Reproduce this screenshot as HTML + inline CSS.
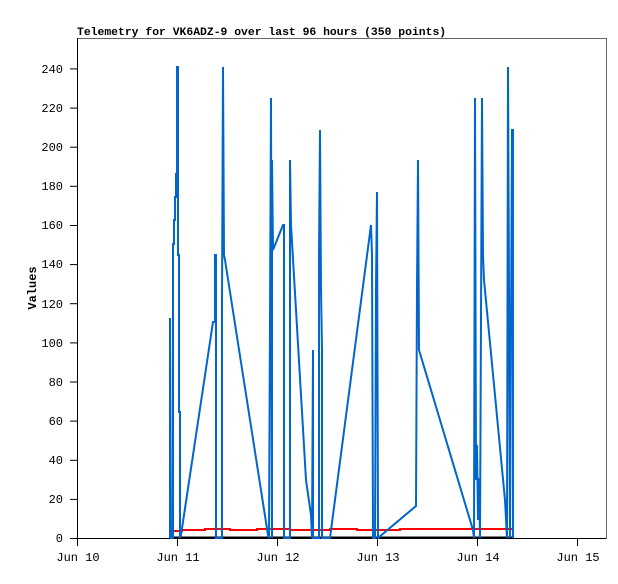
<!DOCTYPE html>
<html><head><meta charset="utf-8"><style>
body{margin:0;background:#fff;}
svg text{font-family:"Liberation Mono",monospace;font-size:12px;fill:#000;}
</style></head><body>
<svg width="618" height="579" viewBox="0 0 618 579" xmlns="http://www.w3.org/2000/svg">
<rect width="618" height="579" fill="#fff"/>
<text x="77" y="35" style="font-weight:bold;font-size:11.4px">Telemetry for VK6ADZ-9 over last 96 hours (350 points)</text>
<rect x="77.5" y="38.5" width="529" height="500" fill="none" stroke="#666" stroke-width="1"/>
<line x1="77.5" y1="38" x2="77.5" y2="539" stroke="#000"/>
<line x1="70" y1="538.5" x2="606" y2="538.5" stroke="#000"/>
<g stroke="#000">
<line x1="70" y1="538.5" x2="77" y2="538.5"/><line x1="70" y1="499.4" x2="77" y2="499.4"/><line x1="70" y1="460.3" x2="77" y2="460.3"/><line x1="70" y1="421.1" x2="77" y2="421.1"/><line x1="70" y1="382" x2="77" y2="382"/><line x1="70" y1="342.9" x2="77" y2="342.9"/><line x1="70" y1="303.7" x2="77" y2="303.7"/><line x1="70" y1="264.6" x2="77" y2="264.6"/><line x1="70" y1="225.5" x2="77" y2="225.5"/><line x1="70" y1="186.3" x2="77" y2="186.3"/><line x1="70" y1="147.2" x2="77" y2="147.2"/><line x1="70" y1="108.1" x2="77" y2="108.1"/><line x1="70" y1="68.9" x2="77" y2="68.9"/>
<line x1="77.5" y1="538" x2="77.5" y2="546"/><line x1="177.5" y1="538" x2="177.5" y2="546"/><line x1="277.5" y1="538" x2="277.5" y2="546"/><line x1="377.5" y1="538" x2="377.5" y2="546"/><line x1="477.5" y1="538" x2="477.5" y2="546"/><line x1="577.5" y1="538" x2="577.5" y2="546"/>
</g>
<g text-anchor="end">
<text x="63" y="542">0</text><text x="63" y="503">20</text><text x="63" y="464">40</text><text x="63" y="425">60</text><text x="63" y="386">80</text><text x="63" y="347">100</text><text x="63" y="308">120</text><text x="63" y="268">140</text><text x="63" y="229">160</text><text x="63" y="190">180</text><text x="63" y="151">200</text><text x="63" y="112">220</text><text x="63" y="73">240</text>
</g>
<g text-anchor="middle">
<text x="78" y="561">Jun 10</text><text x="178" y="561">Jun 11</text><text x="278" y="561">Jun 12</text><text x="378" y="561">Jun 13</text><text x="478" y="561">Jun 14</text><text x="578" y="561">Jun 15</text>
</g>
<text transform="translate(36,288) rotate(-90)" text-anchor="middle" style="font-weight:bold">Values</text>
<line x1="170" y1="537.5" x2="514" y2="537.5" stroke="#000" stroke-width="2"/>
<polyline fill="none" stroke="#f00" stroke-width="2" points="170,531 182,531 182,530 205,530 205,529 230,529 230,530 257,530 257,529 290,529 290,530 330,530 330,529 357,529 357,530 400,530 400,529 450,529 470,529 514,529"/>
<polyline fill="none" stroke="#0066cc" stroke-width="2" points="170,538 170,318 171,538 173,538 173,244 174,244 174,220 175,220 175,197 176,197 176,174 177,174 177,161 177,67 178,67 178,255 179,255 179,412 180,412 180,538 181,535 213,322 215,322 215,255 216,255 216,538 218,538 222,538 222,302 223,67 224,255 225,260 268,535 269,538 270,318 271,98 272,538 272,160 273,250 283,225 284,225 284,538 286,538 290,538 290,160 291,225 306,480 311,515 312,538 313,350 313,538 315,538 319,538 319,255 320,130 321,290 322,350 322,475 322,538 330,538 371,225 372,255 373,538 375,538 376,287 377,192 378,538 416,506 417,287 418,160 419,350 473,530 474,538 475,98 476,480 477,445 478,520 479,478 480,538 482,98 483,255 484,280 505,500 507,538 508,67 509,288 510,538 512,130 513,130 513,538"/>
</svg>
</body></html>
